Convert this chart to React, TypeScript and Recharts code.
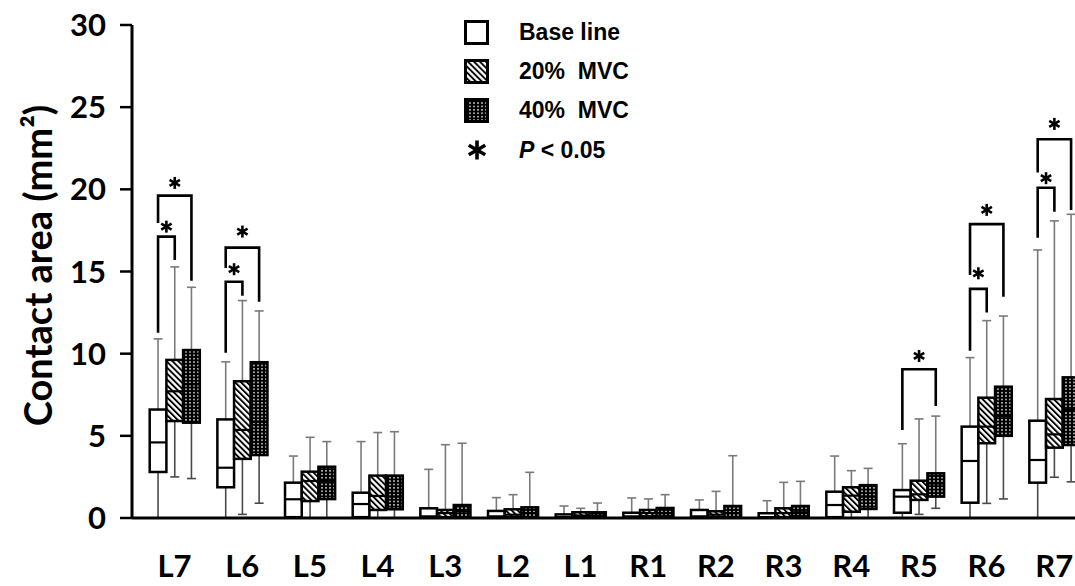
import { ComposedChart, Bar, XAxis, YAxis } from 'recharts';

const categories = ['L7', 'L6', 'L5', 'L4', 'L3', 'L2', 'L1', 'R1', 'R2', 'R3', 'R4', 'R5', 'R6', 'R7'];
const yTicks = [0, 5, 10, 15, 20, 25, 30];

// each entry: [min, q1, median, q3, max]
const baseline = [
  [0, 2.8, 4.6, 6.6, 10.9],
  [0, 1.87, 3.06, 6.0, 9.5],
  [0, 0.05, 1.14, 2.15, 3.77],
  [0, 0.05, 0.85, 1.54, 4.65],
  [0, 0.03, 0.1, 0.59, 2.96],
  [0, 0.05, 0.1, 0.43, 1.24],
  [0, 0.02, 0.05, 0.22, 0.73],
  [0, 0.03, 0.1, 0.32, 1.22],
  [0, 0.05, 0.1, 0.49, 1.1],
  [0, 0.03, 0.05, 0.29, 1.05],
  [0, 0.05, 0.79, 1.6, 3.77],
  [0, 0.32, 1.3, 1.7, 4.52],
  [0, 0.93, 3.47, 5.56, 9.76],
  [0, 2.15, 3.53, 5.92, 16.31],
];

const mvc20 = [
  [2.5, 5.9, 7.71, 9.62, 15.28],
  [0.22, 3.6, 5.36, 8.32, 13.23],
  [0, 1.03, 2.25, 2.82, 4.91],
  [0, 0.49, 1.34, 2.58, 5.2],
  [0, 0.05, 0.3, 0.49, 4.46],
  [0, 0.05, 0.2, 0.53, 1.42],
  [0, 0.05, 0.15, 0.35, 0.59],
  [0, 0.1, 0.3, 0.49, 1.16],
  [0, 0.05, 0.2, 0.41, 1.62],
  [0, 0.05, 0.3, 0.59, 2.17],
  [0, 0.38, 1.36, 1.87, 2.88],
  [0.22, 1.1, 1.44, 2.27, 6.03],
  [0.89, 4.55, 5.56, 7.32, 12.01],
  [2.48, 4.28, 5.09, 7.24, 18.08],
];

const mvc40 = [
  [2.4, 5.8, 8.14, 10.22, 14.04],
  [0.9, 3.83, 5.86, 9.48, 12.6],
  [0, 1.15, 2.25, 3.12, 4.65],
  [0, 0.53, 1.3, 2.58, 5.25],
  [0, 0.05, 0.4, 0.79, 4.55],
  [0, 0.05, 0.3, 0.65, 2.78],
  [0, 0.05, 0.15, 0.35, 0.91],
  [0, 0.1, 0.3, 0.61, 1.42],
  [0, 0.05, 0.3, 0.73, 3.79],
  [0, 0.1, 0.35, 0.73, 2.23],
  [0, 0.55, 1.3, 2.0, 3.02],
  [0.59, 1.3, 2.1, 2.72, 6.2],
  [1.16, 5.0, 6.2, 7.99, 12.29],
  [2.2, 4.44, 6.57, 8.56, 18.48],
];

// significance brackets: groups joined (0 base, 1 20%, 2 40%), bracket top, leg ends, asterisk height
const brackets = [
  { cat: 'L7', a: 0, b: 1, top: 17.12, left: 11.28, right: 15.7, star: 17.73 },
  { cat: 'L7', a: 0, b: 2, top: 19.62, left: 17.95, right: 14.44, star: 20.39 },
  { cat: 'L6', a: 0, b: 1, top: 14.38, left: 10.06, right: 13.53, star: 15.14 },
  { cat: 'L6', a: 0, b: 2, top: 16.45, left: 15.22, right: 13.16, star: 17.43 },
  { cat: 'R5', a: 0, b: 2, top: 9.05, left: 5.36, right: 6.82, star: 9.86 },
  { cat: 'R6', a: 0, b: 1, top: 13.94, left: 10.18, right: 12.5, star: 14.89 },
  { cat: 'R6', a: 0, b: 2, top: 17.88, left: 14.79, right: 13.47, star: 18.75 },
  { cat: 'R7', a: 0, b: 1, top: 20.1, left: 17.06, right: 18.64, star: 20.68 },
  { cat: 'R7', a: 0, b: 2, top: 23.05, left: 21.02, right: 18.75, star: 23.98 },
];

const rows = categories.map((cat, i) => ({
  cat,
  base: baseline[i],
  m20: mvc20[i],
  m40: mvc40[i],
}));

const CHART_W = 1088;
const CHART_H = 586;
const AXIS_W = 132;
const PAD_L = 8.7;
const BAR = 16.7;

const WHISKER_UP = '#7a7a7a';
const WHISKER_DOWN = '#4a4a4a';
const LABEL_FONT = 'Lato, "Open Sans", sans-serif';
const LEGEND_FONT = '"Liberation Sans", Arial, sans-serif';

function Asterisk({ cx, cy, r = 6, w = 2.6 }: any) {
  const arms = [90, 30, 150].map((deg) => {
    const a = (deg * Math.PI) / 180;
    const dx = Math.cos(a) * r;
    const dy = Math.sin(a) * r;
    return <line key={deg} x1={cx - dx} y1={cy - dy} x2={cx + dx} y2={cy + dy} stroke="#000" strokeWidth={w} />;
  });
  return <g>{arms}</g>;
}

const makeBox = (key: string, fill: string, withBrackets = false) => (props: any) => {
  const { x, y, width, height, payload } = props;
  const [lo, q1, med, q3, hi] = payload[key];
  const k = height / (hi - lo);
  const py = (v: number) => y + (hi - v) * k;
  const cx = x + width / 2;
  const marks = withBrackets
    ? brackets
        .filter((b) => b.cat === payload.cat)
        .map((b, i) => {
          const xa = cx + b.a * width;
          const xb = cx + b.b * width;
          return (
            <g key={i}>
              <path
                d={`M${xa},${py(b.left)}V${py(b.top)}H${xb}V${py(b.right)}`}
                fill="none"
                stroke="#000"
                strokeWidth={2.6}
              />
              <Asterisk cx={(xa + xb) / 2} cy={py(b.star)} r={6} w={2.6} />
            </g>
          );
        })
    : null;
  return (
    <g>
      <line x1={cx} x2={cx} y1={py(q3)} y2={py(hi)} stroke={WHISKER_UP} strokeWidth={1.6} />
      <line x1={cx - 4.5} x2={cx + 4.5} y1={py(hi)} y2={py(hi)} stroke={WHISKER_UP} strokeWidth={1.6} />
      <line x1={cx} x2={cx} y1={py(q1)} y2={py(lo)} stroke={WHISKER_DOWN} strokeWidth={1.6} />
      <line x1={cx - 4.5} x2={cx + 4.5} y1={py(lo)} y2={py(lo)} stroke={WHISKER_DOWN} strokeWidth={1.6} />
      <rect x={x} y={py(q3)} width={width} height={Math.max(py(q1) - py(q3), 0.5)} fill={fill} stroke="#000" strokeWidth={2.5} />
      <line x1={x} x2={x + width} y1={py(med)} y2={py(med)} stroke="#000" strokeWidth={2.2} />
      {marks}
    </g>
  );
};

function YLabel(props: any) {
  const vb = props.viewBox || { x: 0, y: 25, height: 493 };
  const cx = vb.x + 37;
  const cy = vb.y + vb.height / 2 - 6;
  return (
    <text
      x={cx}
      y={cy}
      transform={`rotate(-90, ${cx}, ${cy})`}
      textAnchor="middle"
      dominantBaseline="central"
      fontFamily={LABEL_FONT}
      fontWeight={700}
      fontSize={38}
      fill="#000"
    >
      Contact area (mm²)
    </text>
  );
}

const legendItems = [
  { label: 'Base line', fill: '#fff' },
  { label: '20%  MVC', fill: 'url(#hatch20)' },
  { label: '40%  MVC', fill: 'url(#dots40)' },
];

function ChartLegend() {
  return (
    <div style={{ position: 'absolute', left: 464, top: 13, fontFamily: LEGEND_FONT, fontWeight: 700, fontSize: 23, color: '#000' }}>
      {legendItems.map((it) => (
        <div key={it.label} style={{ display: 'flex', alignItems: 'center', height: 39.2 }}>
          <svg width={26} height={26} style={{ marginRight: 29 }}>
            <rect x={1.5} y={1.5} width={22} height={22} fill={it.fill} stroke="#000" strokeWidth={3} />
          </svg>
          <span style={{ whiteSpace: 'pre' }}>{it.label}</span>
        </div>
      ))}
      <div style={{ display: 'flex', alignItems: 'center', height: 39.2 }}>
        <svg width={26} height={26} style={{ marginRight: 29 }}>
          <Asterisk cx={13} cy={13} r={9.5} w={3.6} />
        </svg>
        <span style={{ whiteSpace: 'pre' }}>
          <i>P</i> &lt; 0.05
        </span>
      </div>
    </div>
  );
}

export default function App() {
  return (
    <div style={{ position: 'absolute', left: 0, top: 0, width: 1075, height: 586, overflow: 'hidden', background: '#fff' }}>
      <ComposedChart
        width={CHART_W}
        height={CHART_H}
        data={rows}
        margin={{ top: 25, right: 0, bottom: 8, left: 0 }}
        barGap={0}
        barSize={BAR}
      >
        <defs>
          <pattern id="hatch20" patternUnits="userSpaceOnUse" width={4.2} height={4.2} patternTransform="rotate(-45)">
            <rect width={4.2} height={4.2} fill="#fff" />
            <rect width={1.9} height={4.2} fill="#000" />
          </pattern>
          <pattern id="dots40" patternUnits="userSpaceOnUse" width={4} height={3.4}>
            <rect width={4} height={3.4} fill="#000" />
            <rect x={1.2} y={1} width={1.6} height={1.3} fill="#fff" />
          </pattern>
        </defs>
        <XAxis
          dataKey="cat"
          interval={0}
          padding={{ left: PAD_L, right: 0 }}
          height={60}
          axisLine={{ stroke: '#000', strokeWidth: 3 }}
          tickLine={false}
          tickSize={0}
          tickMargin={37}
          tick={{ fill: '#000', fontFamily: LABEL_FONT, fontWeight: 700, fontSize: 31 }}
        />
        <YAxis
          domain={[0, 30]}
          ticks={yTicks}
          interval={0}
          width={AXIS_W}
          axisLine={{ stroke: '#000', strokeWidth: 3 }}
          tickLine={{ stroke: '#000', strokeWidth: 2.5 }}
          tickSize={12}
          tickMargin={14}
          tick={{ fill: '#000', fontFamily: LABEL_FONT, fontWeight: 700, fontSize: 31 }}
          label={<YLabel />}
        />
        <Bar dataKey={(d: any) => [d.base[0], d.base[4]]} shape={makeBox('base', '#fff', true)} isAnimationActive={false} />
        <Bar dataKey={(d: any) => [d.m20[0], d.m20[4]]} shape={makeBox('m20', 'url(#hatch20)')} isAnimationActive={false} />
        <Bar dataKey={(d: any) => [d.m40[0], d.m40[4]]} shape={makeBox('m40', 'url(#dots40)')} isAnimationActive={false} />
      </ComposedChart>
      <ChartLegend />
    </div>
  );
}
